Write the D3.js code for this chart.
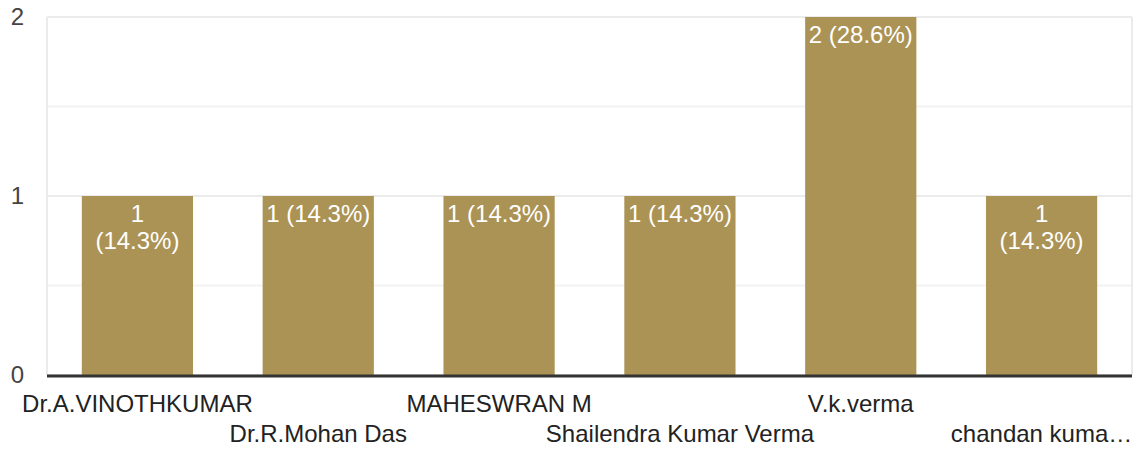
<!DOCTYPE html>
<html><head><meta charset="utf-8">
<script src="https://cdn.jsdelivr.net/npm/d3@7"></script>
<style>body{margin:0;background:#fff}svg{display:block}text{font-family:"Liberation Sans",Arial,sans-serif}</style>
</head><body><svg id="c" width="1139" height="450"></svg>
<script>
const categories = ["Dr.A.VINOTHKUMAR","Dr.R.Mohan Das","MAHESWRAN M","Shailendra Kumar Verma","V.k.verma","chandan kuma…"];
const values = [1,1,1,1,2,1];
const barLabels = [["1","(14.3%)"],["1 (14.3%)"],["1 (14.3%)"],["1 (14.3%)"],["2 (28.6%)"],["1","(14.3%)"]];
const yTicks = [0,1,2];
const yMinorTicks = [0.5,1.5];

const svg = d3.select("#c");
const m = {l:47, r:7, t:17, b:75};
const W = 1139, H = 450;
const FS = 24;
const x = d3.scaleBand().domain(categories).range([m.l, W-m.r]).paddingInner(0.385).paddingOuter(0.1925);
const y = d3.scaleLinear().domain([0,2]).range([H-m.b, m.t]);

// gridlines
svg.append("g").selectAll("line").data(yMinorTicks).join("line")
  .attr("x1", m.l).attr("x2", W-m.r).attr("y1", d=>y(d)).attr("y2", d=>y(d))
  .attr("stroke","#f3f3f3").attr("stroke-width",2);
svg.append("g").selectAll("line").data(yTicks).join("line")
  .attr("x1", m.l).attr("x2", W-m.r).attr("y1", d=>y(d)).attr("y2", d=>y(d))
  .attr("stroke","#ebebeb").attr("stroke-width",2);
[m.l, W-m.r].forEach(xx=>svg.append("line").attr("x1",xx).attr("x2",xx).attr("y1",y(2)).attr("y2",y(0))
  .attr("stroke","#ebebeb").attr("stroke-width",2));

// y axis labels
const yAxis = d3.axisLeft(y).tickValues(yTicks).tickSize(0).tickPadding(0).tickFormat(d3.format("d"));
const ga = svg.append("g").attr("transform",`translate(24,0)`).call(yAxis);
ga.select(".domain").remove();
ga.selectAll("text").attr("font-size",FS).attr("fill","#444").attr("font-family","Liberation Sans, Arial, sans-serif");

// bars
svg.append("g").selectAll("rect").data(values).join("rect")
  .attr("x",(d,i)=>x(categories[i])).attr("width",x.bandwidth())
  .attr("y",d=>y(d)).attr("height",d=>y(0)-y(d)).attr("fill","#ab9355");

// bar labels
const lg = svg.append("g");
values.forEach((v,i)=>{
  const cx = x(categories[i])+x.bandwidth()/2;
  const t = lg.append("text").attr("text-anchor","middle").attr("fill","#fff").attr("font-size",FS)
    .attr("x", cx).attr("y", y(v)+26);
  barLabels[i].forEach((s,j)=>t.append("tspan").attr("x", cx).attr("dy", j?27:0).text(s));
});

// baseline
svg.append("line").attr("x1",m.l).attr("x2",W-m.r).attr("y1",y(0)+1).attr("y2",y(0)+1)
  .attr("stroke","#333").attr("stroke-width",3);

// x labels (staggered)
const xAxis = d3.axisBottom(x).tickSize(0).tickPadding(0);
const gx = svg.append("g").attr("transform",`translate(0,${y(0)})`).call(xAxis);
gx.select(".domain").remove();
gx.selectAll("text").attr("font-size",FS).attr("fill","#222").attr("font-family","Liberation Sans, Arial, sans-serif")
  .attr("dy",null).attr("y",(d,i)=> i%2===0 ? 37 : 67);
</script></body></html>
